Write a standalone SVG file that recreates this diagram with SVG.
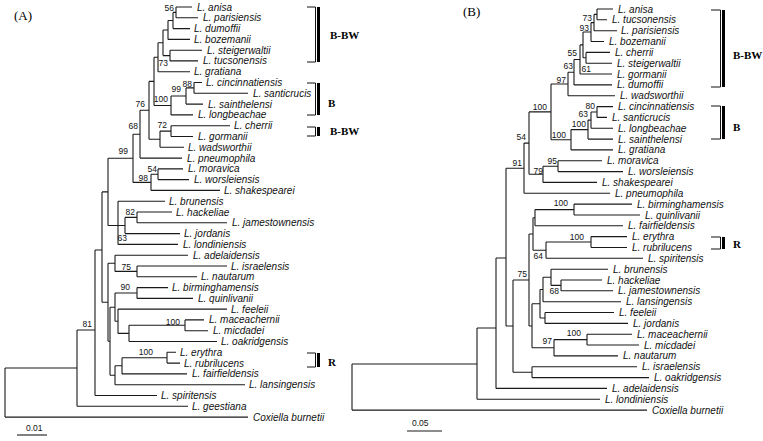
<svg xmlns="http://www.w3.org/2000/svg" width="763" height="441" viewBox="0 0 763 441">
<style>
.e{stroke:#1a1a1a;stroke-width:1.1;fill:none}
.t{font-family:"Liberation Sans",Arial,sans-serif;font-style:italic;font-size:10px;fill:#111}
.n{font-family:"Liberation Sans",Arial,sans-serif;font-size:8.5px;fill:#111;text-anchor:end}
.g{font-family:"Liberation Serif","Times New Roman",serif;font-weight:bold;font-size:11px;fill:#000}
.p{font-family:"Liberation Serif","Times New Roman",serif;font-size:13px;fill:#000}
.s{font-family:"Liberation Sans",Arial,sans-serif;font-size:8.5px;fill:#111}
.k{stroke:#111;stroke-width:1;fill:none}
</style>
<rect width="763" height="441" fill="#fff"/>
<text class="p" x="14" y="20">(A)</text>
<text class="p" x="463" y="16">(B)</text>
<g id="connectors">
<path class="e" d="M5,368V417.1M77,330V406.3M95,250V395.5M102,191.9V302.3M108,158.3V225.5M118,201.2V244.4M125,217.4V233.6M137,212V222.8M133,134.2V182.4M151,174.3V190.4M158,168.9V179.6M140,110.3V158.1M149,81.4V139.2M160,131.1V147.3M171,125.7V136.5M154,57.3V105.5M171,96V114.9M186,87.9V104.1M194,82.5V93.3M158,42.8V71.7M163,30V55.6M170,50.2V60.9M168,20.5V39.4M173,12.4V28.6M176,7V17.8M108,263.3V341.3M115,255.2V271.4M137,266V276.8M110,307.2V375.3M115,293V321.3M137,287.6V298.4M118,309.1V333.4M129,325.3V341.5M185,319.9V330.7M115,365.8V384.7M122,357.7V373.9M167,352.3V363.1
M5,368H77M77,330H95M95,250H102M102,191.9H108M102,302.3H108M108,158.3H133M108,225.5H125M125,217.4H137M133,134.2H140M133,182.4H151M151,174.3H158M140,110.3H149M149,81.4H154M149,139.2H160M160,131.1H171M154,57.3H158M154,105.5H171M171,96H186M186,87.9H194M158,42.8H163M163,30H168M163,55.6H170M168,20.5H173M173,12.4H176M108,263.3H115M108,341.3H110M115,271.4H137M110,307.2H115M110,375.3H115M115,293H137M115,321.3H118M118,333.4H129M129,325.3H185M115,365.8H122M122,357.7H167
M176,7H192M176,17.8H198M173,28.6H190M168,39.4H190M170,50.2H202M170,60.9H198M158,71.7H190M194,82.5H202M194,93.3H248M186,104.1H203M171,114.9H193M171,125.7H230M171,136.5H193M160,147.3H184M140,158.1H182M158,168.9H183M158,179.6H189M151,190.4H220M118,201.2H165M137,212H172M137,222.8H227M125,233.6H180M118,244.4H178M115,255.2H188M137,266H227M137,276.8H197M137,287.6H168M137,298.4H193M118,309.1H227M185,319.9H204M185,330.7H208M129,341.5H217M167,352.3H176M167,363.1H180M122,373.9H187M115,384.7H245M95,395.5H157M77,406.3H188M5,417.1H248"/>
<path class="e" d="M352,364V410.1M477,328V399.2M496,258V388.4M506,168.2V326M513,280V372.2M529,234V326M532,303.7V347.8M540,289.5V318M543,277.3V301.7M551,269.2V285.4M561,280V290.8M545,312.5V323.4M554,339.6V355.9M587,334.2V345M532,366.7V377.6M533,217.7V250.2M535,209.6V225.8M574,204.1V215M546,242V258.3M591,236.6V247.5M524,143.1V193.3M529,111.9V174.3M543,166.2V182.4M558,160.8V171.6M551,84V139.8M571,129.6V149.9M588,120.1V139.1M591,112V128.2M597,106.6V117.4M568,72.2V95.7M574,59.5V84.9M580,44.9V74M583,32V57.8M586,52.4V63.2M591,22.6V41.5M594,14.4V30.7M597,9V19.8
M352,364H477M477,328H496M496,258H506M506,326H513M506,168.2H524M513,280H529M513,372.2H532M529,234H533M529,326H532M532,303.7H540M532,347.8H554M540,289.5H543M540,318H545M543,277.3H551M551,285.4H561M554,339.6H587M533,217.7H535M533,250.2H546M535,209.6H574M546,242H591M524,143.1H529M529,111.9H551M529,174.3H543M543,166.2H558M551,84H568M551,139.8H571M571,129.6H588M588,120.1H591M591,112H597M568,72.2H574M574,59.5H580M580,44.9H583M583,32H591M583,57.8H586M591,22.6H594M594,14.4H597
M597,9H613M597,19.8H607M594,30.7H617M591,41.5H604M586,52.4H610M586,63.2H612M580,74H612M574,84.9H612M568,95.7H615M597,106.6H613M597,117.4H607M591,128.2H613M588,139.1H613M571,149.9H613M558,160.8H602M558,171.6H623M543,182.4H597M524,193.3H610M574,204.1H632M574,215H640M535,225.8H623M591,236.6H627M591,247.5H627M546,258.3H643M551,269.2H608M561,280H602M561,290.8H613M543,301.7H621M545,312.5H614M545,323.4H628M587,334.2H632M587,345H639M554,355.9H618M532,366.7H637M532,377.6H649M496,388.4H607M477,399.2H600M352,410.1H647"/>
</g>
<g id="bootstrap-A">
<text class="n" x="174" y="11">56</text>
<text class="n" x="168" y="66">73</text>
<text class="n" x="168" y="102">100</text>
<text class="n" x="181" y="92">99</text>
<text class="n" x="192" y="87">88</text>
<text class="n" x="145" y="107">76</text>
<text class="n" x="167" y="128">72</text>
<text class="n" x="138" y="129">68</text>
<text class="n" x="128" y="154">99</text>
<text class="n" x="157" y="172">54</text>
<text class="n" x="148" y="181">98</text>
<text class="n" x="135" y="215">82</text>
<text class="n" x="127" y="241">63</text>
<text class="n" x="131" y="270">75</text>
<text class="n" x="130" y="290">90</text>
<text class="n" x="180" y="325">100</text>
<text class="n" x="153" y="355">100</text>
<text class="n" x="92" y="327">81</text>
</g>
<g id="bootstrap-B">
<text class="n" x="592" y="21">73</text>
<text class="n" x="589" y="31">93</text>
<text class="n" x="577" y="56">55</text>
<text class="n" x="591" y="72">61</text>
<text class="n" x="573" y="69">63</text>
<text class="n" x="566" y="83">97</text>
<text class="n" x="547" y="110">100</text>
<text class="n" x="595" y="109">80</text>
<text class="n" x="588" y="117">63</text>
<text class="n" x="586" y="127">100</text>
<text class="n" x="566" y="138">100</text>
<text class="n" x="526" y="140">54</text>
<text class="n" x="522" y="166">91</text>
<text class="n" x="557" y="164">95</text>
<text class="n" x="543" y="174">79</text>
<text class="n" x="568" y="206">100</text>
<text class="n" x="584" y="240">100</text>
<text class="n" x="543" y="259">64</text>
<text class="n" x="527" y="277">75</text>
<text class="n" x="559" y="294">68</text>
<text class="n" x="581" y="336">100</text>
<text class="n" x="552" y="344">97</text>
</g>
<g id="A-anisa"><text class="t" x="197" y="10.5">L. anisa</text></g>
<g id="A-parisiensis"><text class="t" x="203" y="21.3">L. parisiensis</text></g>
<g id="A-dumoffii"><text class="t" x="194" y="32.1">L. dumoffii</text></g>
<g id="A-bozemanii"><text class="t" x="194" y="42.9">L. bozemanii</text></g>
<g id="A-steigerwaltii"><text class="t" x="207" y="53.7">L. steigerwaltii</text></g>
<g id="A-tucsonensis"><text class="t" x="203" y="64.4">L. tucsonensis</text></g>
<g id="A-gratiana"><text class="t" x="194" y="75.2">L. gratiana</text></g>
<g id="A-cincinnatiensis"><text class="t" x="206" y="86">L. cincinnatiensis</text></g>
<g id="A-santicrucis"><text class="t" x="253" y="96.8">L. santicrucis</text></g>
<g id="A-sainthelensi"><text class="t" x="208" y="107.6">L. sainthelensi</text></g>
<g id="A-longbeachae"><text class="t" x="198" y="118.4">L. longbeachae</text></g>
<g id="A-cherrii"><text class="t" x="234" y="129.2">L. cherrii</text></g>
<g id="A-gormanii"><text class="t" x="198" y="140">L. gormanii</text></g>
<g id="A-wadsworthii"><text class="t" x="188" y="150.8">L. wadsworthii</text></g>
<g id="A-pneumophila"><text class="t" x="187" y="161.6">L. pneumophila</text></g>
<g id="A-moravica"><text class="t" x="188" y="172.4">L. moravica</text></g>
<g id="A-worsleiensis"><text class="t" x="194" y="183.1">L. worsleiensis</text></g>
<g id="A-shakespearei"><text class="t" x="224" y="193.9">L. shakespearei</text></g>
<g id="A-brunensis"><text class="t" x="169" y="204.7">L. brunensis</text></g>
<g id="A-hackeliae"><text class="t" x="176" y="215.5">L. hackeliae</text></g>
<g id="A-jamestownensis"><text class="t" x="232" y="226.3">L. jamestownensis</text></g>
<g id="A-jordanis"><text class="t" x="184" y="237.1">L. jordanis</text></g>
<g id="A-londiniensis"><text class="t" x="183" y="247.9">L. londiniensis</text></g>
<g id="A-adelaidensis"><text class="t" x="193" y="258.7">L. adelaidensis</text></g>
<g id="A-israelensis"><text class="t" x="231" y="269.5">L. israelensis</text></g>
<g id="A-nautarum"><text class="t" x="201" y="280.3">L. nautarum</text></g>
<g id="A-birminghamensis"><text class="t" x="172" y="291.1">L. birminghamensis</text></g>
<g id="A-quinlivanii"><text class="t" x="198" y="301.9">L. quinlivanii</text></g>
<g id="A-feeleii"><text class="t" x="231" y="312.6">L. feeleii</text></g>
<g id="A-maceachernii"><text class="t" x="209" y="323.4">L. maceachernii</text></g>
<g id="A-micdadei"><text class="t" x="213" y="334.2">L. micdadei</text></g>
<g id="A-oakridgensis"><text class="t" x="221" y="345">L. oakridgensis</text></g>
<g id="A-erythra"><text class="t" x="180" y="355.8">L. erythra</text></g>
<g id="A-rubrilucens"><text class="t" x="184" y="366.6">L. rubrilucens</text></g>
<g id="A-fairfieldensis"><text class="t" x="192" y="377.4">L. fairfieldensis</text></g>
<g id="A-lansingensis"><text class="t" x="249" y="388.2">L. lansingensis</text></g>
<g id="A-spiritensis"><text class="t" x="161" y="399">L. spiritensis</text></g>
<g id="A-geestiana"><text class="t" x="192" y="409.8">L. geestiana</text></g>
<g id="A-coxiella"><text class="t" x="253" y="420.6">Coxiella burnetii</text></g>
<g id="B-anisa"><text class="t" x="618" y="12.5">L. anisa</text></g>
<g id="B-tucsonensis"><text class="t" x="612" y="23.3">L. tucsonensis</text></g>
<g id="B-parisiensis"><text class="t" x="621" y="34.2">L. parisiensis</text></g>
<g id="B-bozemanii"><text class="t" x="609" y="45">L. bozemanii</text></g>
<g id="B-cherrii"><text class="t" x="615" y="55.9">L. cherrii</text></g>
<g id="B-steigerwaltii"><text class="t" x="617" y="66.7">L. steigerwaltii</text></g>
<g id="B-gormanii"><text class="t" x="617" y="77.5">L. gormanii</text></g>
<g id="B-dumoffii"><text class="t" x="617" y="88.4">L. dumoffii</text></g>
<g id="B-wadsworthii"><text class="t" x="620" y="99.2">L. wadsworthii</text></g>
<g id="B-cincinnatiensis"><text class="t" x="618" y="110.1">L. cincinnatiensis</text></g>
<g id="B-santicrucis"><text class="t" x="612" y="120.9">L. santicrucis</text></g>
<g id="B-longbeachae"><text class="t" x="618" y="131.7">L. longbeachae</text></g>
<g id="B-sainthelensi"><text class="t" x="618" y="142.6">L. sainthelensi</text></g>
<g id="B-gratiana"><text class="t" x="618" y="153.4">L. gratiana</text></g>
<g id="B-moravica"><text class="t" x="607" y="164.3">L. moravica</text></g>
<g id="B-worsleiensis"><text class="t" x="628" y="175.1">L. worsleiensis</text></g>
<g id="B-shakespearei"><text class="t" x="602" y="185.9">L. shakespearei</text></g>
<g id="B-pneumophila"><text class="t" x="615" y="196.8">L. pneumophila</text></g>
<g id="B-birminghamensis"><text class="t" x="637" y="207.6">L. birminghamensis</text></g>
<g id="B-quinlivanii"><text class="t" x="645" y="218.5">L. quinlivanii</text></g>
<g id="B-fairfieldensis"><text class="t" x="628" y="229.3">L. fairfieldensis</text></g>
<g id="B-erythra"><text class="t" x="632" y="240.1">L. erythra</text></g>
<g id="B-rubrilucens"><text class="t" x="632" y="251">L. rubrilucens</text></g>
<g id="B-spiritensis"><text class="t" x="648" y="261.8">L. spiritensis</text></g>
<g id="B-brunensis"><text class="t" x="613" y="272.7">L. brunensis</text></g>
<g id="B-hackeliae"><text class="t" x="607" y="283.5">L. hackeliae</text></g>
<g id="B-jamestownensis"><text class="t" x="618" y="294.3">L. jamestownensis</text></g>
<g id="B-lansingensis"><text class="t" x="626" y="305.2">L. lansingensis</text></g>
<g id="B-feeleii"><text class="t" x="619" y="316">L. feeleii</text></g>
<g id="B-jordanis"><text class="t" x="633" y="326.9">L. jordanis</text></g>
<g id="B-maceachernii"><text class="t" x="637" y="337.7">L. maceachernii</text></g>
<g id="B-micdadei"><text class="t" x="644" y="348.5">L. micdadei</text></g>
<g id="B-nautarum"><text class="t" x="623" y="359.4">L. nautarum</text></g>
<g id="B-israelensis"><text class="t" x="642" y="370.2">L. israelensis</text></g>
<g id="B-oakridgensis"><text class="t" x="654" y="381.1">L. oakridgensis</text></g>
<g id="B-adelaidensis"><text class="t" x="612" y="391.9">L. adelaidensis</text></g>
<g id="B-londiniensis"><text class="t" x="605" y="402.7">L. londiniensis</text></g>
<g id="B-coxiella"><text class="t" x="652" y="413.6">Coxiella burnetii</text></g>
<g id="groups-A">
<path class="k" d="M307,7H315.5V62H307M307,83H315.5V115H307M307,127H315.5V136H307M307,353H315.5V367H307"/>
<rect x="317" y="7" width="3" height="55" fill="#000"/>
<rect x="317" y="83" width="3" height="32" fill="#000"/>
<rect x="317" y="127" width="3" height="9" fill="#000"/>
<rect x="317" y="353" width="3" height="14" fill="#000"/>
<text class="g" x="330" y="39">B-BW</text>
<text class="g" x="328" y="107">B</text>
<text class="g" x="330" y="135">B-BW</text>
<text class="g" x="328" y="366">R</text>
</g>
<g id="groups-B">
<path class="k" d="M711,10H720.5V87H711M711,106H720.5V139H711M711,237H720.5V249H711"/>
<rect x="722" y="10" width="3" height="77" fill="#000"/>
<rect x="722" y="106" width="3" height="33" fill="#000"/>
<rect x="722" y="237" width="3" height="12" fill="#000"/>
<text class="g" x="733" y="59">B-BW</text>
<text class="g" x="733" y="131">B</text>
<text class="g" x="733" y="248">R</text>
</g>
<g id="scale-A">
<path class="e" d="M17,435H47"/>
<text class="s" x="26" y="431">0.01</text>
</g>
<g id="scale-B">
<path class="e" d="M407,431H442"/>
<text class="s" x="412" y="426">0.05</text>
</g>
</svg>
